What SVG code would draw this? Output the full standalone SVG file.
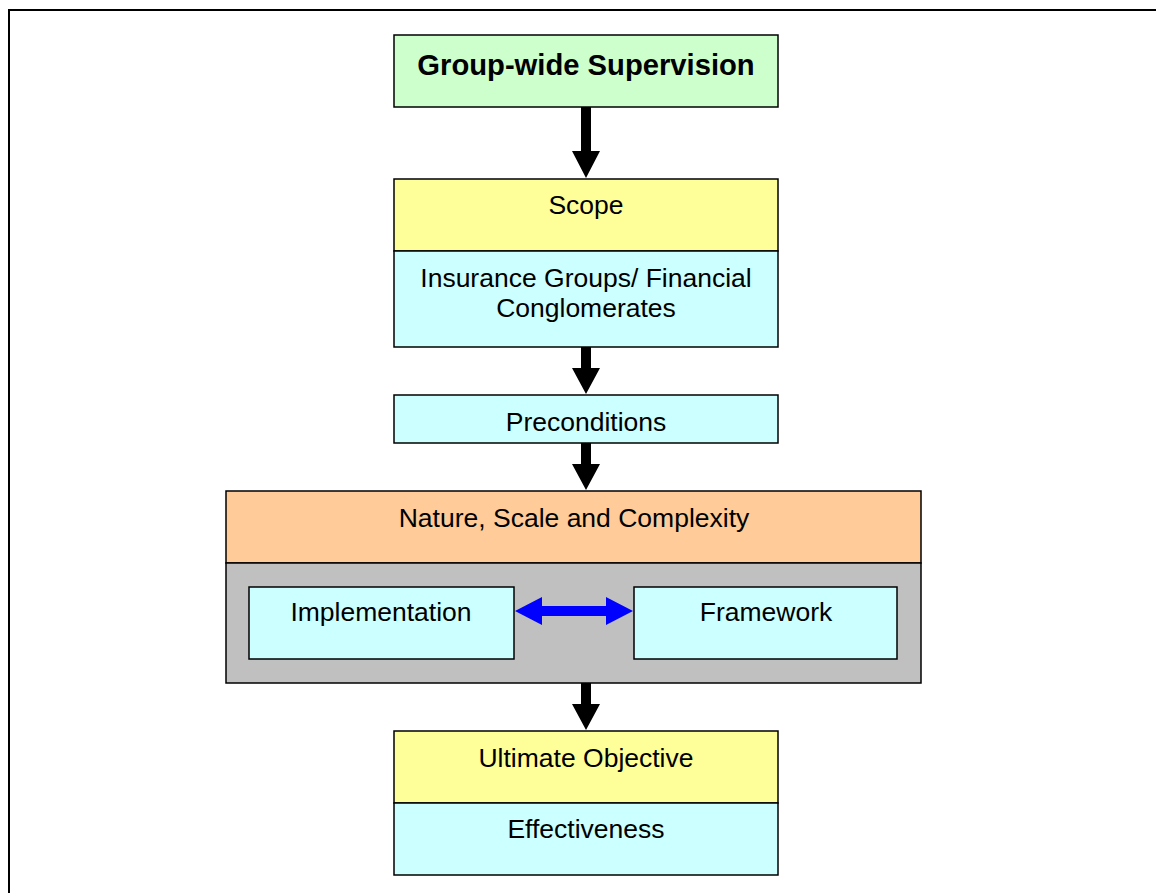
<svg xmlns="http://www.w3.org/2000/svg" width="1156" height="893" viewBox="0 0 1156 893">
<style>
.box{stroke:#000;stroke-width:1.5}
.t{font-family:"Liberation Sans",Arial,sans-serif;font-size:26.5px;fill:#000;text-anchor:middle}
.tb{font-family:"Liberation Sans",Arial,sans-serif;font-size:29.2px;font-weight:bold;fill:#000;text-anchor:middle}
.arr{fill:#000}
</style>
<rect x="0" y="0" width="1156" height="893" fill="#fff"/>
<rect x="9" y="10" width="1200" height="1000" fill="none" stroke="#000" stroke-width="2"/>
<g id="connectors">
<polygon class="arr" points="581,107 591,107 591,151 600,151 586,178 572,151 581,151"/>
<polygon class="arr" points="581,347 591,347 591,368 600,368 586,394 572,368 581,368"/>
<polygon class="arr" points="581,443 591,443 591,464 600,464 586,490 572,464 581,464"/>
<polygon class="arr" points="581,683 591,683 591,704 600,704 586,730 572,704 581,704"/>
</g>
<g id="group-wide-supervision">
<rect class="box" x="394" y="35" width="384" height="72" fill="#CCFFCC"/>
<text class="tb" x="586" y="75">Group-wide Supervision</text>
</g>
<g id="scope">
<rect class="box" x="394" y="179" width="384" height="72" fill="#FFFF99"/>
<text class="t" x="586" y="214">Scope</text>
</g>
<g id="insurance-groups">
<rect class="box" x="394" y="251" width="384" height="96" fill="#CCFFFF"/>
<text class="t" x="586" y="287">Insurance Groups/ Financial</text>
<text class="t" x="586" y="317">Conglomerates</text>
</g>
<g id="preconditions">
<rect class="box" x="394" y="395" width="384" height="48" fill="#CCFFFF"/>
<text class="t" x="586" y="431">Preconditions</text>
</g>
<g id="nature-scale-complexity">
<rect class="box" x="226" y="491" width="695" height="72" fill="#FFCC99"/>
<text class="t" x="574" y="527">Nature, Scale and Complexity</text>
</g>
<g id="gray-panel">
<rect class="box" x="226" y="563" width="695" height="120" fill="#C0C0C0"/>
</g>
<g id="implementation">
<rect class="box" x="249" y="587" width="265" height="72" fill="#CCFFFF"/>
<text class="t" x="381" y="621">Implementation</text>
</g>
<g id="framework">
<rect class="box" x="634" y="587" width="263" height="72" fill="#CCFFFF"/>
<text class="t" x="766" y="621">Framework</text>
</g>
<g id="connectors-bidirectional">
<polygon fill="#0000FF" points="515,611 542,597 542,606 606,606 606,597 633,611 606,625 606,616 542,616 542,625"/>
</g>
<g id="ultimate-objective">
<rect class="box" x="394" y="731" width="384" height="72" fill="#FFFF99"/>
<text class="t" x="586" y="767">Ultimate Objective</text>
</g>
<g id="effectiveness">
<rect class="box" x="394" y="803" width="384" height="72" fill="#CCFFFF"/>
<text class="t" x="586" y="838">Effectiveness</text>
</g>
</svg>
